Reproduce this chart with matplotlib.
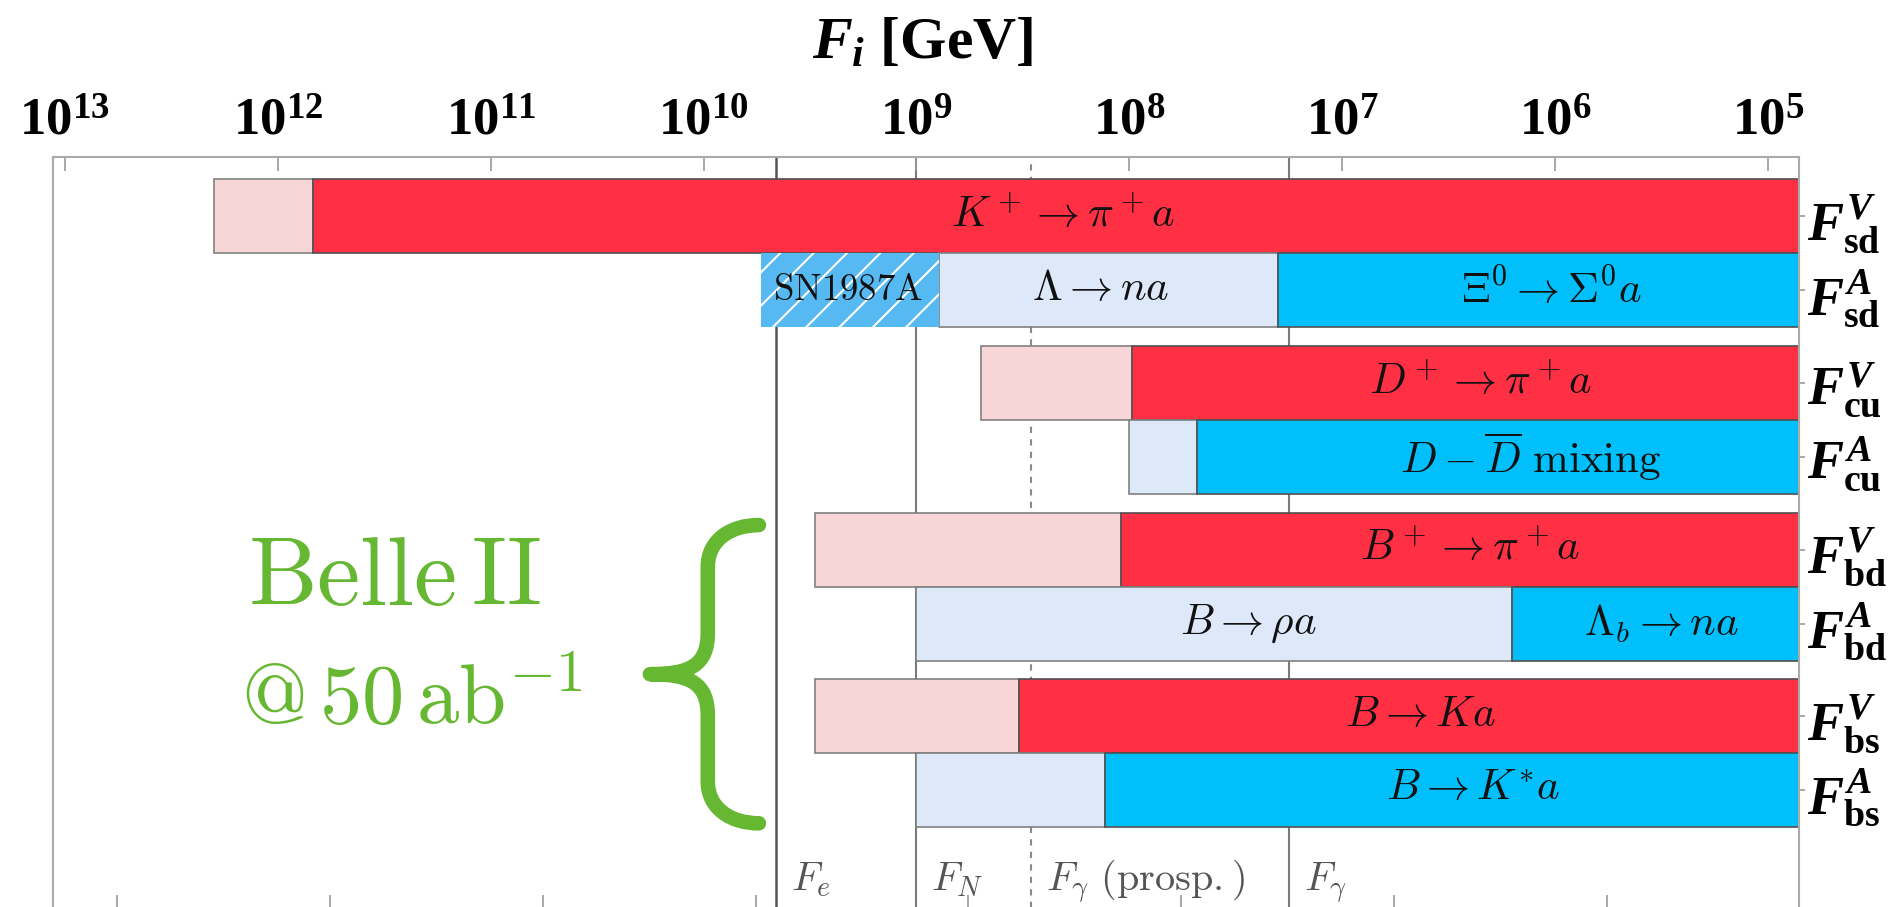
import numpy as np
import matplotlib
matplotlib.use("Agg")
import matplotlib.pyplot as plt
from matplotlib.path import Path
from matplotlib.patches import PathPatch
import matplotlib.transforms as mtransforms

plt.rcParams.update({
    "mathtext.fontset": "custom",
    "mathtext.rm": "Liberation Serif:bold",
    "mathtext.it": "Liberation Serif:italic:bold",
    "mathtext.bf": "Liberation Serif:bold",
    "font.family": "Liberation Serif",
    "font.weight": "bold",
    "hatch.linewidth": 1.5,
})

# rows, top to bottom
row_labels = [r"$F^{V}_{\mathrm{sd}}$", r"$F^{A}_{\mathrm{sd}}$",
              r"$F^{V}_{\mathrm{cu}}$", r"$F^{A}_{\mathrm{cu}}$",
              r"$F^{V}_{\mathrm{bd}}$", r"$F^{A}_{\mathrm{bd}}$",
              r"$F^{V}_{\mathrm{bs}}$", r"$F^{A}_{\mathrm{bs}}$"]
row_y = [0, 1, 2.25, 3.25, 4.5, 5.5, 6.75, 7.75]
row_kind = ["V", "A", "V", "A", "V", "A", "V", "A"]

# bound edges [GeV]: faint (prospect) segment starts at light_lo, solid segment at dark_lo
light_lo = [2.0e12, 7.85e8, 5.0e8, 1.0e8, 3.0e9, 1.0e9, 3.0e9, 1.0e9]
dark_lo = [6.8e11, 2.0e7, 9.7e7, 4.8e7, 1.1e8, 1.6e6, 3.3e8, 1.3e8]
dark_text = [r"$K^+ \to \pi^+ a$", r"$\Xi^0 \to \Sigma^0 a$", r"$D^+ \to \pi^+ a$",
             r"$D - \overline{D}\ \mathrm{mixing}$", r"$B^+ \to \pi^+ a$",
             r"$\Lambda_b \to n a$", r"$B \to K a$", r"$B \to K^{*} a$"]
dark_text_x = [2.05e8, 1.04e6, 2.23e6, 1.3e6, 2.52e6, 3.15e5, 4.28e6, 2.43e6]
light_text = {1: (r"$\Lambda \to n a$", 1.36e8), 5: (r"$B \to \rho a$", 2.75e7)}
sn1987a = (5.4e9, 7.85e8)
sn_text_x = 2.1e9

# reference scales
ref_x = [4.57e9, 1.0e9, 2.9e8, 1.78e7]
ref_text = [r"$F_e$", r"$F_N$", r"$F_\gamma\ (\mathrm{prosp.})$", r"$F_\gamma$"]
ref_style = ["-", "-", (0, (3, 3)), "-"]
ref_color = ["#555555", "#7a7a7a", "#8a8a8a", "#7a7a7a"]

top_ticks = [1e13, 1e12, 1e11, 1e10, 1e9, 1e8, 1e7, 1e6, 1e5]
top_labels = [r"$\mathbf{10^{13}}$", r"$\mathbf{10^{12}}$", r"$\mathbf{10^{11}}$",
              r"$\mathbf{10^{10}}$", r"$\mathbf{10^{9}}$", r"$\mathbf{10^{8}}$",
              r"$\mathbf{10^{7}}$", r"$\mathbf{10^{6}}$", r"$\mathbf{10^{5}}$"]
bottom_ticks = [5.7e12, 5.7e11, 5.7e10, 5.7e9, 5.7e8, 5.7e7, 5.7e6, 5.7e5]

RED, PINK = "#FF3044", "#F8D5D6"
BLUE, LBLUE = "#00BFFA", "#DDE8F8"
HATCH_BG = "#57B9F2"
GREEN = "#66B732"
X_FAR = 1e3

fig = plt.figure(figsize=(18.97, 9.07), dpi=100)
ax = fig.add_axes([0.0279, -0.0022, 0.9204, 0.8291])
ax.set_xscale("log")
ax.set_xlim(10 ** 13.056, 10 ** 4.855)
ax.set_ylim(9.358, -0.804)

for xv, ls, c in zip(ref_x, ref_style, ref_color):
    ax.axvline(xv, ls=ls, color=c, lw=1.8 if c == "#555555" else 1.5, zorder=1)

for i, y in enumerate(row_y):
    lc, dc = (PINK, RED) if row_kind[i] == "V" else (LBLUE, BLUE)
    ax.barh(y, dark_lo[i] - light_lo[i], left=light_lo[i], height=1.0, color=lc,
            edgecolor="#808080", lw=1.2, zorder=2)
    ax.barh(y, X_FAR - dark_lo[i], left=dark_lo[i], height=1.0, color=dc,
            edgecolor="#505050", lw=1.2, zorder=2)
    ax.text(dark_text_x[i], y, dark_text[i], math_fontfamily="cm", fontsize=31,
            ha="center", va="center", color="#111111", zorder=4)
    if i in light_text:
        t, tx = light_text[i]
        ax.text(tx, y, t, math_fontfamily="cm", fontsize=31, ha="center",
                va="center", color="#111111", zorder=4)

# SN1987A hatched box
ax.barh(row_y[1], sn1987a[1] - sn1987a[0], left=sn1987a[0], height=1.0,
        color=HATCH_BG, edgecolor="white", hatch="/", lw=0, zorder=2)
ax.text(sn_text_x, row_y[1], r"$\mathrm{SN1987A}$", math_fontfamily="cm", fontsize=26.5,
        ha="center", va="center", color="#111111", zorder=4)

# reference scale labels at the bottom
tr = mtransforms.blended_transform_factory(ax.transData, ax.transAxes)
for xv, t in zip(ref_x, ref_text):
    ax.annotate(t, xy=(xv, 0), xycoords=tr, xytext=(15, 19), textcoords="offset pixels",
                math_fontfamily="cm", fontsize=29, color="#555555", va="baseline")

# Belle II brace (built in log-x / row units)
def brace(ax, lx_tip, lx_stem, lx_end, y0, y1, **kw):
    ym = 0.5 * (y0 + y1)
    h = y1 - y0
    r = 0.14 * h
    pts = [(lx_end, y0), (lx_stem + 0.45 * (lx_end - lx_stem), y0), (lx_stem, y0 + 0.05 * h), (lx_stem, y0 + r),
           (lx_stem, ym - r),
           (lx_stem, ym - 0.03 * h), (lx_stem + 0.3 * (lx_tip - lx_stem), ym), (lx_tip, ym),
           (lx_stem + 0.3 * (lx_tip - lx_stem), ym), (lx_stem, ym + 0.03 * h), (lx_stem, ym + r),
           (lx_stem, y1 - r),
           (lx_stem, y1 - 0.05 * h), (lx_stem + 0.45 * (lx_end - lx_stem), y1), (lx_end, y1)]
    codes = [Path.MOVETO, Path.CURVE4, Path.CURVE4, Path.CURVE4, Path.LINETO,
             Path.CURVE4, Path.CURVE4, Path.CURVE4, Path.CURVE4, Path.CURVE4, Path.CURVE4,
             Path.LINETO, Path.CURVE4, Path.CURVE4, Path.CURVE4]
    verts = [(10 ** lx, yy) for lx, yy in pts]
    ax.add_patch(PathPatch(Path(verts, codes), fill=False, clip_on=False, **kw))

brace(ax, 10.252, 9.98, 9.74, row_y[4] - 0.33, row_y[7] + 0.45,
      color=GREEN, lw=10.5, capstyle="round", joinstyle="round", zorder=5)
ax.text(10 ** 11.45, row_y[4] + 0.43, r"$\mathrm{Belle\,II}$", math_fontfamily="cm",
        fontsize=70, color=GREEN, ha="center", va="center")
ax.text(10 ** 11.37, row_y[6] - 0.18, r"$@\,50\,\mathrm{ab}^{-1}$", math_fontfamily="cm",
        fontsize=61, color=GREEN, ha="center", va="center")

# axes dressing
ax.xaxis.tick_top()
ax.set_xticks(top_ticks)
ax.set_xticklabels(top_labels)
ax.xaxis.set_minor_locator(matplotlib.ticker.NullLocator())
ax.tick_params(axis="x", direction="in", length=10, width=1.2, color="#999999",
               labelsize=38, pad=8)
sec = ax.secondary_xaxis("bottom")
sec.set_xticks(bottom_ticks)
sec.xaxis.set_minor_locator(matplotlib.ticker.NullLocator())
sec.set_xticklabels([])
sec.tick_params(direction="in", length=10, width=1.2, color="#999999")
sec.spines["bottom"].set_visible(False)

ax.yaxis.tick_right()
ax.set_yticks(row_y)
ax.set_yticklabels(row_labels)
ax.tick_params(axis="y", direction="out", length=4, width=1.2, color="#999999",
               labelsize=39, pad=2)
for s in ax.spines.values():
    s.set_color("#aaaaaa")
    s.set_linewidth(1.5)

fig.text(0.4866, 1 - 45 / 907, r"$F_i$ [GeV]", fontsize=43, fontweight="bold",
         ha="center", va="center")

fig.savefig("out.png", dpi=100, facecolor="white")
